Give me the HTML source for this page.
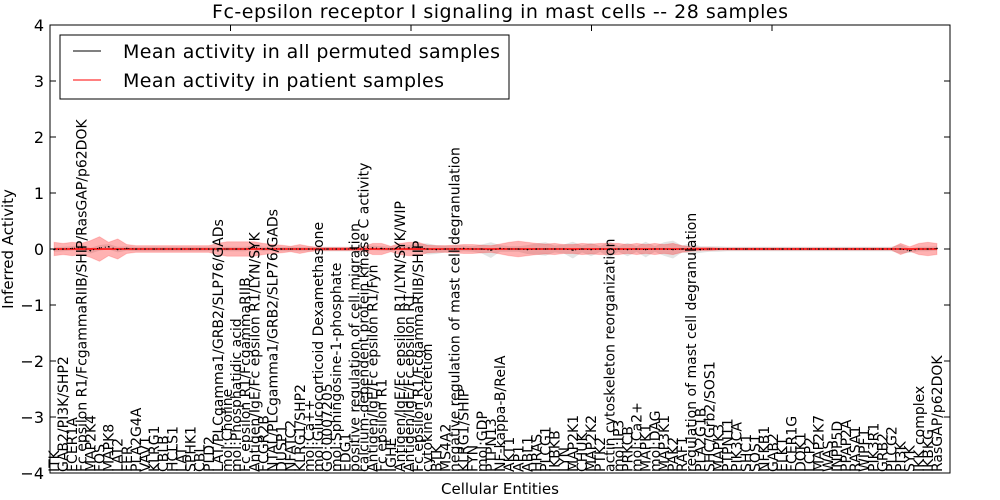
<!DOCTYPE html>
<html><head><meta charset="utf-8"><style>
html,body{margin:0;padding:0;background:#fff;}
svg{display:block;font-family:"DejaVu Sans","Liberation Sans",sans-serif;}
</style></head><body>
<svg id="chart" width="1000" height="500" viewBox="0 0 1000 500" xmlns="http://www.w3.org/2000/svg">
<rect x="0" y="0" width="1000" height="500" fill="#fff"/>
<text x="500" y="18" font-size="19" text-anchor="middle" textLength="576">Fc-epsilon receptor I signaling in mast cells -- 28 samples</text>
<g id="bands"></g>
<g id="lines"></g>
<g id="xlabels"></g>
<rect x="50" y="25" width="900" height="448" fill="none" stroke="#000" stroke-width="1"/>
<g id="yaxis"></g>
<text transform="translate(13,249) rotate(-90)" font-size="15" text-anchor="middle">Inferred Activity</text>
<text x="500" y="494" font-size="15" text-anchor="middle">Cellular Entities</text>
<g>
<rect x="60" y="35" width="449" height="64" fill="#fff" stroke="#000" stroke-width="1"/>
<line x1="73" y1="51" x2="101" y2="51" stroke="#000" stroke-width="1"/>
<text x="123" y="58" font-size="19" textLength="377">Mean activity in all permuted samples</text>
<line x1="73" y1="80" x2="101" y2="80" stroke="#f00" stroke-width="1"/>
<text x="123" y="87" font-size="19" textLength="321">Mean activity in patient samples</text>
</g>
</svg>
<script>
const categories = ["ITK","GAB2/PI3K/SHP2","FCER1A","Fc epsilon R1/FcgammaRIIB/SHIP/RasGAP/p62DOK","MAP2K4","FOS","MAPK8","LAT2","FER","PLA2G4A","VAV1","KLRG1","CBLB","HCLS1","LAT","SPHK1","CBL","PLD2","LAT/PLCgamma1/GRB2/SLP76/GADs","mol:Choline","mol:Phosphatidic acid","Fc epsilon R1/FcgammaRIIB","Antigen/IgE/Fc epsilon R1/LYN/SYK","FCGR2B","NTAL/PLCgamma1/GRB2/SLP76/GADs","DUSP1","NFATC2","KLRG1/SHP2","mol:Ca++","mol:Glucocorticoid Dexamethasone","GO:0007205","mol:Sphingosine-1-phosphate","EDG1","positive regulation of cell migration","calcium-dependent protein kinase C activity","Antigen/IgE/Fc epsilon R1/Fyn","Fc epsilon R1","IGHE","Antigen/IgE/Fc epsilon R1/LYN/SYK/WIP","Antigen/IgE/Fc epsilon R1","Fc epsilon R1/FcgammaRIIB/SHIP","cytokine secretion","BTK","MS4A2","negative regulation of mast cell degranulation","KLRG1/SHIP","FYN","mol:GDP","PTPN13","NF-kappa-B/RelA","AKT1","AP1","ABL1","HRAS","PLCG1","IKBKB","LYN","MAP2K1","CHUK","MAP2K2","PTK2","actin cytoskeleton reorganization","mol:IP3","PRKCB","mol:Ca2+","MAPK1","mol:DAG","MAP3K1","PAK2","RAF1","regulation of mast cell degranulation","PLA2G1B","SHC/Grb2/SOS1","MAPK3","PTPN11","PIK3CA","SHC1","SOS1","NFKB1","GAB2","ELK1","FCER1G","DOK1","LCP2","MAP2K7","WAS","INPP5D","PPAP2A","RASA1","WIPF1","PIK3R1","GRB2","PLCG2","PI3K","SYK","IKK complex","IKBKG","RasGAP/p62DOK"];
const patientMean = [0,0,0,0,0,0,0,0,0,0,0,0,0,0,0,0,0,0,0,0,0,0,0,0,0,0,0,0,0,0,0,0,0,0,0,0,0,0,0,0,0,0,0,0,0,0,0,0,0,0,0,0,0,0,0,0,0,0,0,0,0,0,0,0,0,0,0,0,0,0,0,0,0,0,0,0,0,0,0,0,0,0,0,0,0,0,0,0,0,0,0,0,0,0,0,0,0,0];
const permutedMean = [-0.01,0,0.01,0.03,-0.03,0.02,0.04,-0.01,0.01,0,0,0,0,0,0,0,0,0,0,0,0,0,0.03,0,0.01,0,0,0,0,0,0,0,0,0,0,0.02,0.01,0,0.02,0.02,0.03,0,-0.01,0,0,0.01,0,0,-0.02,0.01,0,0,-0.01,0,0,0,0,-0.02,0,-0.01,0,-0.01,0,-0.01,0,-0.01,0,0,-0.01,0,0.01,-0.01,0,0,0,0,0,0,0,0,0,0,0,0,0,0,0,0,0,0,0,0,0,0,-0.03,0,0,0.01];
const patientBand = [0.12,0.1,0.12,0.1,0.15,0.22,0.12,0.18,0.08,0.06,0.06,0.06,0.06,0.06,0.06,0.06,0.06,0.06,0.1,0.13,0.13,0.13,0.13,0.1,0.08,0.07,0.05,0.08,0.05,0.03,0.03,0.03,0.03,0.03,0.04,0.1,0.1,0.05,0.1,0.12,0.12,0.07,0.06,0.06,0.07,0.08,0.08,0.07,0.06,0.09,0.12,0.14,0.12,0.1,0.09,0.1,0.08,0.08,0.1,0.09,0.1,0.1,0.1,0.08,0.1,0.08,0.1,0.08,0.1,0.06,0.04,0.03,0.03,0.02,0.02,0.02,0.02,0.02,0.02,0.02,0.02,0.02,0.02,0.02,0.02,0.02,0.02,0.02,0.02,0.02,0.02,0.02,0.02,0.1,0.04,0.1,0.12,0.1];
const permutedBand = [0.04,0.04,0.04,0.05,0.05,0.05,0.05,0.05,0.04,0.04,0.04,0.04,0.04,0.04,0.04,0.04,0.04,0.04,0.04,0.04,0.04,0.04,0.04,0.04,0.04,0.04,0.04,0.04,0.04,0.04,0.04,0.04,0.04,0.04,0.04,0.04,0.04,0.04,0.04,0.05,0.06,0.1,0.08,0.06,0.06,0.05,0.05,0.08,0.14,0.06,0.05,0.05,0.08,0.1,0.12,0.06,0.08,0.15,0.06,0.12,0.05,0.15,0.05,0.12,0.05,0.14,0.05,0.12,0.16,0.06,0.1,0.06,0.05,0.05,0.04,0.04,0.04,0.04,0.04,0.04,0.04,0.04,0.04,0.04,0.04,0.04,0.04,0.04,0.04,0.04,0.04,0.04,0.04,0.08,0.04,0.04,0.04,0.04];
const yTicks = [4,3,2,1,0,-1,-2,-3,-4];
const yTickLabels = ["4","3","2","1","0","\u22121","\u22122","\u22123","\u22124"];

const NS = "http://www.w3.org/2000/svg";
function xScale(i){ return 54 + i * (937 - 54) / (categories.length - 1); }
function yScale(v){ return 249 - v * 56; }
function mk(tag, attrs, parent){ const e = document.createElementNS(NS, tag); for (const k in attrs) e.setAttribute(k, attrs[k]); parent.appendChild(e); return e; }

const bands = document.getElementById('bands');
function bandPath(mean, band){
  let up = [], dn = [];
  for (let i = 0; i < categories.length; i++){ up.push(xScale(i)+','+yScale(mean[i]+band[i])); dn.unshift(xScale(i)+','+yScale(mean[i]-band[i])); }
  return 'M'+up.join('L')+'L'+dn.join('L')+'Z';
}
const gb = mk('path', {d: bandPath(permutedMean, permutedBand), fill:'#bbb', 'fill-opacity':'0.4', stroke:'none'}, bands);


const rb = mk('path', {d: bandPath(patientMean, patientBand), fill:'#f00', 'fill-opacity':'0.3', stroke:'#f00', 'stroke-opacity':'0.15'}, bands);



const lines = document.getElementById('lines');
function linePts(arr){ return arr.map((v,i)=>xScale(i)+','+yScale(v)).join(' '); }
const rl = mk('polyline', {points: linePts(patientMean), fill:'none', stroke:'#f00', 'stroke-width':'1.5'}, lines);


const bl = mk('polyline', {points: linePts(permutedMean), fill:'none', stroke:'#000', 'stroke-width':'1', 'stroke-dasharray':'1,3'}, lines);


for (let i = 0; i < categories.length; i++){
  const p = mk('circle', {cx: xScale(i), cy: yScale(permutedMean[i]), r: 0.8, fill:'#000'}, lines);
  
  
}

const xl = document.getElementById('xlabels');
for (let i = 0; i < categories.length; i++){
  const x = xScale(i) + 5;
  const t = mk('text', {transform: 'translate('+x+',472) rotate(-90)', 'font-size':'14'}, xl);
  t.textContent = categories[i];
  
  
}

const ya = document.getElementById('yaxis');
for (let k = 0; k < yTicks.length; k++){
  const y = yScale(yTicks[k]);
  const l1 = mk('line', {x1:50, x2:56, y1:y, y2:y, stroke:'#000'}, ya);
  
  
  const l2 = mk('line', {x1:944, x2:950, y1:y, y2:y, stroke:'#000'}, ya);
  
  
  const t = mk('text', {x:44, y:y+6, 'font-size':'16', 'text-anchor':'end'}, ya);
  t.textContent = yTickLabels[k];
  
  
}
for (let k = 1; k < 5; k++){
  const x = 50 + k * 180.5;
  const l = mk('line', {x1:x, x2:x, y1:25, y2:31, stroke:'#000'}, ya);
  
  
}
</script>
</body></html>
